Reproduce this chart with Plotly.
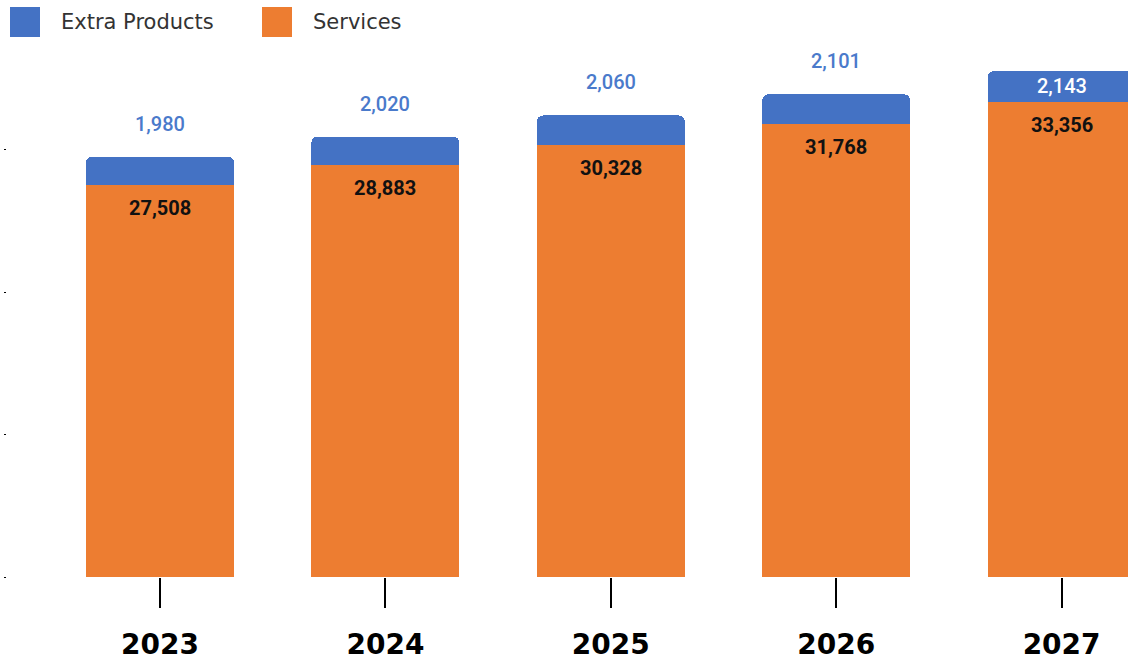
import plotly.graph_objects as go

years = ["2023", "2024", "2025", "2026", "2027"]
services = [27508, 28883, 30328, 31768, 33356]
extra_products = [1980, 2020, 2060, 2101, 2143]

BLUE = "#4472C4"
ORANGE = "#ED7D31"

W, H = 1128, 661
ML, MT, MB = 7, 50, 84
PW = W - ML
PH = H - MT - MB
STEP = 225.4  # px per category

fig = go.Figure()
fig.add_trace(go.Bar(x=years, y=services, name="Services", marker_color=ORANGE,
                     marker_line_width=0, showlegend=False, hoverinfo="skip"))
fig.add_trace(go.Bar(x=years, y=extra_products, name="Extra Products", marker_color=BLUE,
                     marker_line_width=0, showlegend=False, hoverinfo="skip"))

annotations = []
for i, (yr, s, e) in enumerate(zip(years, services, extra_products)):
    annotations.append(dict(x=i, y=s, yshift=-23, text=f"{s:,}", showarrow=False,
                            font=dict(family="Roboto", size=20, color="#111111", weight="bold")))
    if i < len(years) - 1:
        annotations.append(dict(x=i, y=s + e, yshift=33, text=f"{e:,}", showarrow=False,
                                font=dict(family="Roboto", size=20, color="#4a7acb", weight=500)))
    else:
        annotations.append(dict(x=i, y=s + e / 2, yshift=0, text=f"{e:,}", showarrow=False,
                                font=dict(family="Roboto", size=20, color="#ffffff", weight=500)))

# legend (manual, large swatches)
def px_x(p):
    return (p - ML) / PW

def px_y(p):
    return (H - MB - p) / PH

legend_items = [("Extra Products", BLUE, 10, 59), ("Services", ORANGE, 262, 311)]
shapes = []
for label, col, sx, tx in legend_items:
    shapes.append(dict(type="rect", xref="paper", yref="paper",
                       x0=px_x(sx), x1=px_x(sx + 30), y0=px_y(37), y1=px_y(7),
                       fillcolor=col, line_width=0))
    annotations.append(dict(xref="paper", yref="paper", x=px_x(tx), y=px_y(22),
                            xanchor="left", yanchor="middle", text=label, showarrow=False,
                            font=dict(family="DejaVu Sans", size=21, color="#333333")))

ymax = PH / 142.5 * 10000
x0 = -(160 - ML) / STEP
fig.update_layout(
    width=W, height=H,
    margin=dict(l=ML, r=0, t=MT, b=MB),
    barmode="stack", bargap=1 - 148 / STEP, barcornerradius=6,
    plot_bgcolor="white", paper_bgcolor="white",
    annotations=annotations, shapes=shapes,
    showlegend=False,
    xaxis=dict(type="category", range=[x0, x0 + PW / STEP], showgrid=False,
               showline=False, ticks="outside", ticklen=30, tickwidth=2, tickcolor="black",
               ticklabelstandoff=12,
               tickfont=dict(family="DejaVu Sans", size=28, color="black", weight="bold"),
               zeroline=False),
    yaxis=dict(range=[0, ymax], showgrid=False, showline=False, zeroline=False,
               tickvals=[0, 10000, 20000, 30000], ticks="outside", ticklen=2,
               tickcolor="black", showticklabels=False),
)

fig.write_html("out.html", config={"displayModeBar": False},
               post_script="document.body.style.margin='0';")
